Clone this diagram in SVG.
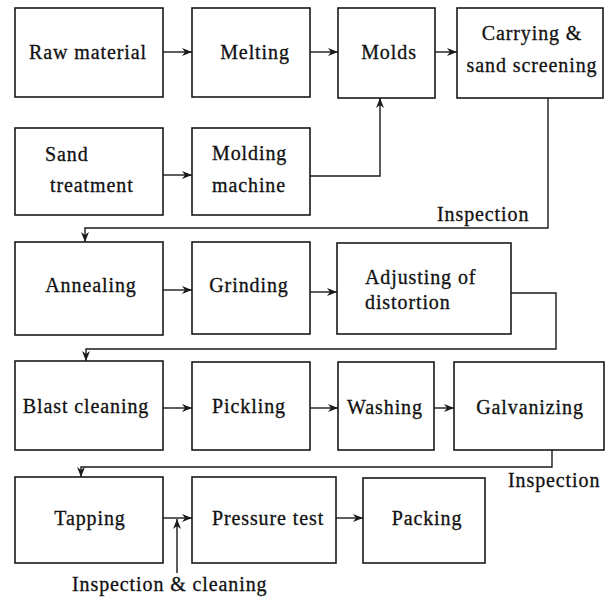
<svg xmlns="http://www.w3.org/2000/svg" width="613" height="597" viewBox="0 0 613 597">
  <style>
    .box { fill: #fff; stroke: #1a1a1a; stroke-width: 1.6; }
    .lbl { font-family: 'Liberation Serif', 'DejaVu Serif', serif; font-size: 20px; fill: #111; stroke: #111; stroke-width: 0.3px; letter-spacing: 0.9px; }
    .mid { text-anchor: middle; }
    .wire { fill: none; stroke: #1a1a1a; stroke-width: 1.4; }
  </style>
  <defs>
    <marker id="arr" viewBox="0 0 10 8" refX="10" refY="4" markerWidth="10" markerHeight="8" markerUnits="userSpaceOnUse" orient="auto">
      <path d="M0,0 L10,4 L0,8 L3,4 Z" fill="#1a1a1a"/>
    </marker>
  </defs>
  <rect width="613" height="597" fill="#fff"/>

  <!-- row 1 -->
  <g id="raw-material">
    <rect class="box" x="15" y="8" width="148" height="89"/>
    <text class="lbl mid" x="88" y="59">Raw material</text>
  </g>
  <g id="melting">
    <rect class="box" x="192" y="8" width="118" height="89"/>
    <text class="lbl mid" x="255" y="59">Melting</text>
  </g>
  <g id="molds">
    <rect class="box" x="338" y="8" width="97" height="90"/>
    <text class="lbl mid" x="389" y="59">Molds</text>
  </g>
  <g id="carrying">
    <rect class="box" x="457" y="8" width="146" height="90"/>
    <text class="lbl mid" x="532" y="40">Carrying &amp;</text>
    <text class="lbl mid" x="532" y="72">sand screening</text>
  </g>

  <!-- row 2 -->
  <g id="sand-treatment">
    <rect class="box" x="15" y="128" width="148" height="87"/>
    <text class="lbl" x="45" y="161">Sand</text>
    <text class="lbl" x="50" y="192">treatment</text>
  </g>
  <g id="molding-machine">
    <rect class="box" x="192" y="128" width="118" height="87"/>
    <text class="lbl" x="212" y="160">Molding</text>
    <text class="lbl" x="212" y="192">machine</text>
  </g>

  <!-- row 3 -->
  <g id="annealing">
    <rect class="box" x="15" y="242" width="148" height="93"/>
    <text class="lbl mid" x="91" y="292">Annealing</text>
  </g>
  <g id="grinding">
    <rect class="box" x="192" y="242" width="118" height="92"/>
    <text class="lbl mid" x="249" y="292">Grinding</text>
  </g>
  <g id="adjusting">
    <rect class="box" x="337" y="243" width="174" height="91"/>
    <text class="lbl" x="365" y="284">Adjusting of</text>
    <text class="lbl" x="365" y="309">distortion</text>
  </g>

  <!-- row 4 -->
  <g id="blast-cleaning">
    <rect class="box" x="15" y="361" width="148" height="89"/>
    <text class="lbl mid" x="86" y="413">Blast cleaning</text>
  </g>
  <g id="pickling">
    <rect class="box" x="192" y="362" width="118" height="88"/>
    <text class="lbl mid" x="249" y="413">Pickling</text>
  </g>
  <g id="washing">
    <rect class="box" x="338" y="362" width="96" height="88"/>
    <text class="lbl mid" x="385" y="414">Washing</text>
  </g>
  <g id="galvanizing">
    <rect class="box" x="454" y="362" width="150" height="88"/>
    <text class="lbl mid" x="530" y="414">Galvanizing</text>
  </g>

  <!-- row 5 -->
  <g id="tapping">
    <rect class="box" x="15" y="477" width="148" height="86"/>
    <text class="lbl mid" x="90" y="525">Tapping</text>
  </g>
  <g id="pressure-test">
    <rect class="box" x="192" y="477" width="144" height="86"/>
    <text class="lbl mid" x="268" y="525">Pressure test</text>
  </g>
  <g id="packing">
    <rect class="box" x="363" y="478" width="122" height="85"/>
    <text class="lbl mid" x="427" y="525">Packing</text>
  </g>

  <!-- connectors -->
  <g id="connectors">
    <path class="wire" marker-end="url(#arr)" d="M163,52 H192"/>
    <path class="wire" marker-end="url(#arr)" d="M310,52 H338"/>
    <path class="wire" marker-end="url(#arr)" d="M435,52 H457"/>
    <path class="wire" marker-end="url(#arr)" d="M163,175 H192"/>
    <path class="wire" marker-end="url(#arr)" d="M310,176 H380 V98"/>
    <path class="wire" marker-end="url(#arr)" d="M548,98 V228 H85 V242"/>
    <path class="wire" marker-end="url(#arr)" d="M163,290 H192"/>
    <path class="wire" marker-end="url(#arr)" d="M310,292 H337"/>
    <path class="wire" marker-end="url(#arr)" d="M511,293 H556 V349 H86 V361"/>
    <path class="wire" marker-end="url(#arr)" d="M163,408 H192"/>
    <path class="wire" marker-end="url(#arr)" d="M310,408 H338"/>
    <path class="wire" marker-end="url(#arr)" d="M434,408 H454"/>
    <path class="wire" marker-end="url(#arr)" d="M552,450 V467 H81 V477"/>
    <path class="wire" marker-end="url(#arr)" d="M163,518 H192"/>
    <path class="wire" marker-end="url(#arr)" d="M177,573 V519"/>
    <path class="wire" marker-end="url(#arr)" d="M336,518 H363"/>
  </g>

  <!-- annotations -->
  <text class="lbl" x="437" y="221">Inspection</text>
  <text class="lbl" x="508" y="487">Inspection</text>
  <text class="lbl" x="72" y="591">Inspection &amp; cleaning</text>
</svg>
